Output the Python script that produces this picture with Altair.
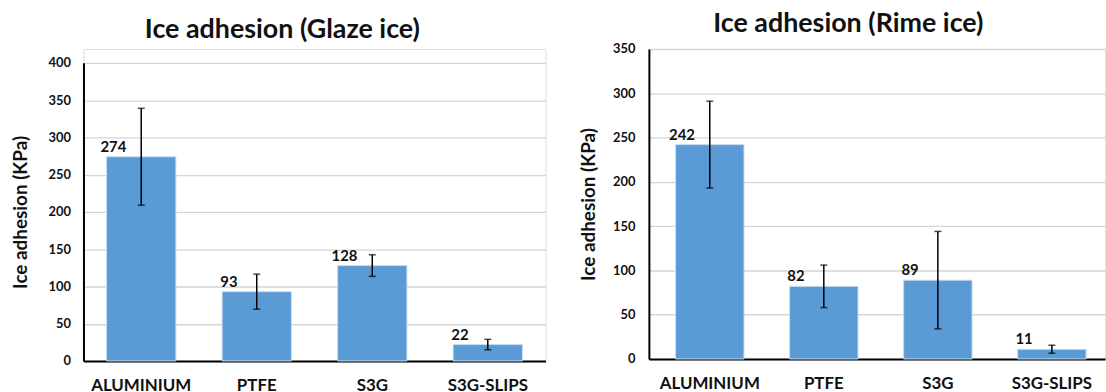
import altair as alt
import pandas as pd

# Surfaces tested and the measured ice adhesion strength (kPa)
materials = ["ALUMINIUM", "PTFE", "S3G", "S3G-SLIPS"]
glaze_mean = [274, 93, 128, 22]
glaze_err = [65, 23.5, 14.5, 7]
rime_mean = [242, 82, 89, 11]
rime_err = [49, 24, 55, 4.5]

glaze_ticks = [0, 50, 100, 150, 200, 250, 300, 350, 400]
rime_ticks = [0, 50, 100, 150, 200, 250, 300, 350]

FONT = "Lato"
INK = "#111111"
BAR = "#5B9BD5"


def panel(title, means, errs, ymax, ticks, width, height, y_range,
          title_dx, label_pad, title_pad, band_align):
    df = pd.DataFrame({"material": materials, "value": means, "err": errs})
    base = alt.Chart(df).transform_calculate(
        lo="datum.value - datum.err", hi="datum.value + datum.err"
    )
    x_scale = alt.Scale(paddingInner=0.4, paddingOuter=0.2, align=band_align)
    x_axis = alt.Axis(
        title=None, labelAngle=0, labelFont=FONT, labelFontSize=17,
        labelFontWeight="bold", labelColor=INK, labelPadding=17,
        ticks=False, domainColor="black", domainWidth=2, grid=False,
    )
    y_scale = alt.Scale(domain=[0, ymax], range=y_range, nice=False)
    y_axis = alt.Axis(
        title="Ice adhesion (KPa)", values=ticks, format="d",
        labelFont=FONT, labelFontSize=13, labelFontWeight="bold",
        labelColor=INK, labelPadding=label_pad, ticks=False,
        domainColor="black", domainWidth=2, grid=True,
        gridColor="#D5D5D5", gridWidth=1.4,
        titleFont=FONT, titleFontSize=19, titleFontWeight="bold",
        titleColor=INK, titlePadding=title_pad,
    )

    def xe():
        return alt.X("material:N", sort=materials, scale=x_scale, axis=x_axis)

    def ye(field):
        return alt.Y(field, scale=y_scale, axis=y_axis)

    bars = base.mark_bar(color=BAR, stroke="#C9DDF1", strokeWidth=1).encode(
        x=xe(), y=ye("value:Q")
    )
    whisker = base.mark_rule(color="black", strokeWidth=1.5).encode(
        x=xe(), y=ye("lo:Q"), y2="hi:Q"
    )
    cap_hi = base.mark_tick(color="black", thickness=1.5, size=7).encode(
        x=xe(), y=ye("hi:Q")
    )
    cap_lo = base.mark_tick(color="black", thickness=1.5, size=7).encode(
        x=xe(), y=ye("lo:Q")
    )
    labels = base.mark_text(
        dx=-28, dy=-5, baseline="alphabetic", align="center", font=FONT,
        fontSize=15, fontWeight="bold", color=INK,
    ).encode(x=xe(), y=ye("value:Q"), text="value:Q")

    return alt.layer(bars, whisker, cap_hi, cap_lo, labels).properties(
        width=width,
        height=height,
        title=alt.TitleParams(
            title, font=FONT, fontSize=27, fontWeight="bold", color=INK,
            anchor="middle", frame="bounds", offset=5, dx=title_dx,
        ),
    )


# Both views share the same top edge; the glaze panel's axis starts lower down.
glaze = panel("Ice adhesion (Glaze ice)", glaze_mean, glaze_err, 400, glaze_ticks,
              465, 314, [314, 14], 4, 13, 18, 0.5)
rime = panel("Ice adhesion (Rime ice)", rime_mean, rime_err, 350, rime_ticks,
             459, 312, [312, 0], 6, 14, 14, 0.585)

chart = (
    alt.hconcat(glaze, rime, spacing=32)
    .properties(padding={"left": 10, "top": 8, "right": 0, "bottom": 0})
    .configure_view(stroke=None)
    .configure(background="white")
)

chart.save("out.html", embed_options={"renderer": "svg", "actions": False})
